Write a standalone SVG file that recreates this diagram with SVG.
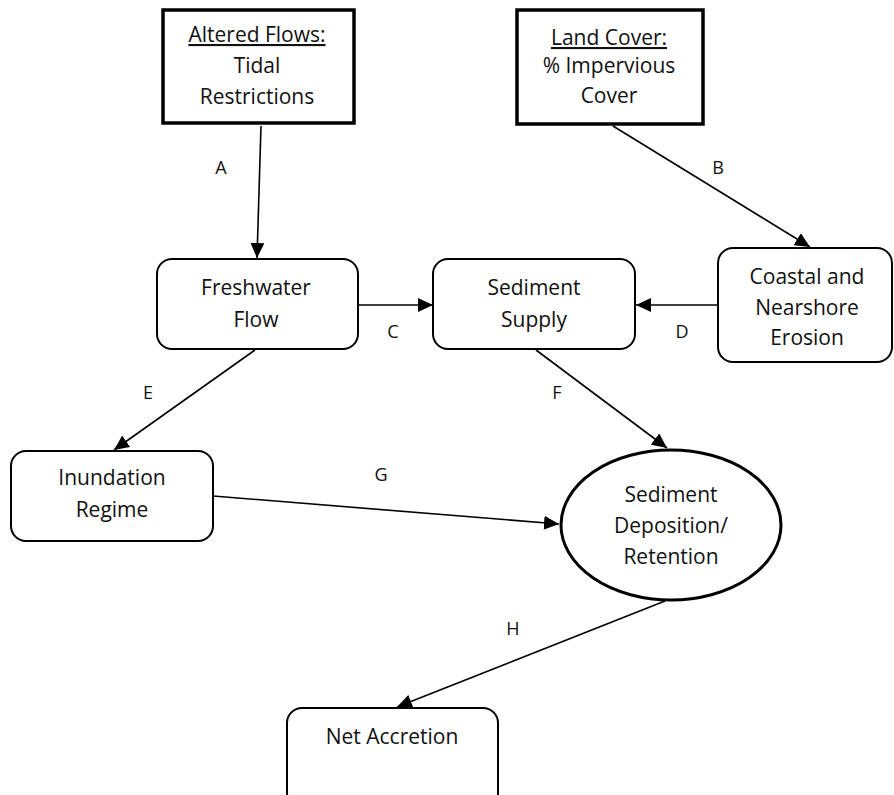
<svg xmlns="http://www.w3.org/2000/svg" width="894" height="795" viewBox="0 0 894 795">
<defs>
<marker id="ah" markerUnits="userSpaceOnUse" markerWidth="16" markerHeight="14" refX="15" refY="7" orient="auto">
<path d="M0,0 L15,7 L0,14 Z" fill="#000"/>
</marker>
<style>
.t{font-family:"Open Sans","Liberation Sans",sans-serif;font-size:21px;fill:#111;text-anchor:middle}
.u{text-decoration:underline}
.lb{font-family:"Open Sans","Liberation Sans",sans-serif;font-size:18px;fill:#111;text-anchor:middle}
.sq{fill:#fff;stroke:#000;stroke-width:3.5}
.rr{fill:#fff;stroke:#000;stroke-width:2}
.el{fill:#fff;stroke:#000;stroke-width:3}
.c{stroke:#000;stroke-width:1.6;fill:none;marker-end:url(#ah)}
</style>
</defs>
<rect width="894" height="795" fill="#fff"/>
<g id="connectors">
<line class="c" x1="261" y1="126" x2="257" y2="258"/>
<line class="c" x1="613" y1="126" x2="810" y2="247"/>
<line class="c" x1="358" y1="305" x2="433" y2="305"/>
<line class="c" x1="718" y1="305" x2="636" y2="305"/>
<line class="c" x1="255" y1="350" x2="114" y2="450"/>
<line class="c" x1="536" y1="350" x2="667" y2="448"/>
<line class="c" x1="213" y1="496" x2="559" y2="524"/>
<line class="c" x1="665" y1="601" x2="397" y2="707"/>
<text class="lb" x="221" y="174">A</text>
<text class="lb" x="718" y="174">B</text>
<text class="lb" x="393" y="338">C</text>
<text class="lb" x="682" y="338">D</text>
<text class="lb" x="148" y="399">E</text>
<text class="lb" x="557" y="399">F</text>
<text class="lb" x="381" y="481">G</text>
<text class="lb" x="513" y="635">H</text>
</g>
<g id="altered-flows">
<rect class="sq" x="163" y="10" width="191" height="113"/>
<text class="t u" x="257" y="42">Altered Flows:</text>
<text class="t" x="257" y="73">Tidal</text>
<text class="t" x="257" y="104">Restrictions</text>
</g>
<g id="land-cover">
<rect class="sq" x="517" y="10" width="186" height="114"/>
<text class="t u" x="609" y="45">Land Cover:</text>
<text class="t" x="609" y="73">% Impervious</text>
<text class="t" x="609" y="103">Cover</text>
</g>
<g id="freshwater-flow">
<rect class="rr" x="157" y="259" width="201" height="90" rx="15"/>
<text class="t" x="256" y="295">Freshwater</text>
<text class="t" x="256" y="327">Flow</text>
</g>
<g id="sediment-supply">
<rect class="rr" x="433" y="259" width="202" height="90" rx="15"/>
<text class="t" x="534" y="295">Sediment</text>
<text class="t" x="534" y="327">Supply</text>
</g>
<g id="coastal-erosion">
<rect class="rr" x="718" y="248" width="174" height="114" rx="15"/>
<text class="t" x="807" y="284">Coastal and</text>
<text class="t" x="807" y="315">Nearshore</text>
<text class="t" x="807" y="345">Erosion</text>
</g>
<g id="inundation-regime">
<rect class="rr" x="11" y="451" width="202" height="90" rx="15"/>
<text class="t" x="112" y="485">Inundation</text>
<text class="t" x="112" y="517">Regime</text>
</g>
<g id="sediment-deposition">
<ellipse class="el" cx="671" cy="525" rx="110" ry="75"/>
<text class="t" x="671" y="502">Sediment</text>
<text class="t" x="671" y="533">Deposition/</text>
<text class="t" x="671" y="564">Retention</text>
</g>
<g id="net-accretion">
<rect class="rr" x="287" y="708" width="211" height="100" rx="15"/>
<text class="t" x="392" y="744">Net Accretion</text>
</g>
</svg>
